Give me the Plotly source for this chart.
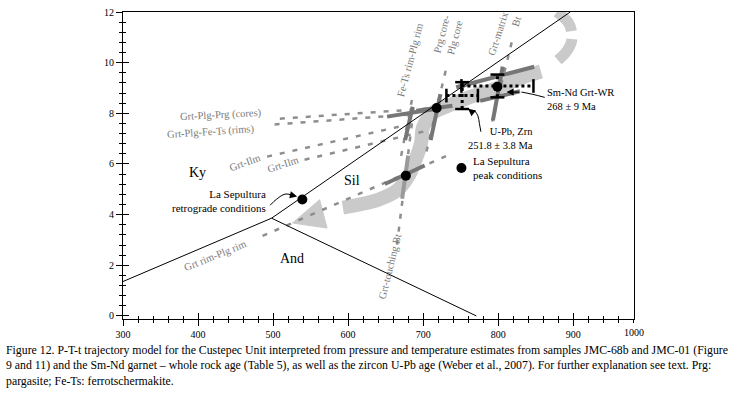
import plotly.graph_objects as go

# ---------------- data (T in deg C, P in kbar) ----------------
# Al2SiO5 phase boundaries
ky_and_T = [300, 498]
ky_and_P = [1.36, 3.86]
ky_sil_T = [498, 896]
ky_sil_P = [3.86, 12.0]
and_sil_T = [498, 771]
and_sil_P = [3.86, 0.0]

# P-T-t trajectory (thick grey band)
path_T = [857, 829, 798, 762, 736, 712, 700, 697, 689, 680, 665, 642, 615, 593]
path_P = [9.65, 9.38, 8.99, 8.64, 8.33, 7.99, 7.45, 6.8, 6.1, 5.5, 4.95, 4.61, 4.4, 4.28]
early_T = [879.7, 890.4, 897.0, 898.3, 894.4, 878.4]
early_P = [10.10, 10.41, 10.76, 11.07, 11.54, 12.0]
arrow_T = [562, 572, 526, 562]
arrow_P = [4.59, 3.47, 3.67, 4.59]

# thermobarometric isopleths (dashed)
grt_plg_prg_T = [509, 718]
grt_plg_prg_P = [7.79, 8.21]
grt_plg_fets_T = [502, 680]
grt_plg_fets_P = [7.56, 7.95]
grt_ilm1_T = [492, 669]
grt_ilm1_P = [6.29, 7.48]
grt_ilm2_T = [542, 702]
grt_ilm2_P = [6.17, 7.29]
grt_plg_rim_T = [486, 732]
grt_plg_rim_P = [3.16, 6.33]
fets_plg_rim_T = [685, 669]
fets_plg_rim_P = [8.53, 6.06]
prg_plg_core_T = [730, 704]
prg_plg_core_P = [9.68, 6.44]
grt_touch_bt_T = [685, 665]
grt_touch_bt_P = [7.6, 2.78]
grt_matrix_bt_T = [818, 792]
grt_matrix_bt_P = [10.8, 7.68]

# uncertainty bars of the intersections (dark grey)
bars_T = [[691, 739], [652, 718], [686, 676], [723, 710], [649, 702], [806, 793], [744, 848], [776, 829]]
bars_P = [[8.10, 8.30], [7.87, 8.18], [8.26, 6.94], [8.76, 6.94], [5.21, 5.94], [9.84, 7.72], [9.03, 9.84], [8.49, 8.87]]
bt_bar_T = [680, 672]
bt_bar_P = [6.33, 4.63]

# ages with error bars
smnd_T, smnd_P, smnd_dT, smnd_dP = 799, 9.08, 48, 0.45
upb_T, upb_P, upb_dT, upb_dP = 752, 8.70, 21, 0.53

# P-T points (black dots)
dots_T = [718, 677, 799, 539, 751]
dots_P = [8.21, 5.54, 9.05, 4.60, 5.84]

x_ticks = [300, 400, 500, 600, 700, 800, 900]
y_ticks = [0, 2, 4, 6, 8, 10, 12]

SERIF = "Liberation Serif, Times New Roman, serif"
LIGHT = "#cacaca"
DASH = "#8e8e8e"
DARK = "#767676"
LABEL = "#7a7a7a"

fig = go.Figure()

def line(T, P, color, width, dash="solid", shape="linear"):
    fig.add_trace(go.Scatter(x=T, y=P, mode="lines", hoverinfo="skip",
                             line=dict(color=color, width=width, dash=dash, shape=shape),
                             showlegend=False))

# trajectory band
line(path_T, path_P, LIGHT, 14, shape="spline")
line(early_T, early_P, LIGHT, 11, dash="26px,8px", shape="spline")
fig.add_trace(go.Scatter(x=arrow_T, y=arrow_P, mode="lines", fill="toself", fillcolor=LIGHT,
                         line=dict(color=LIGHT, width=1), hoverinfo="skip", showlegend=False))

# dashed isopleths
for T, P in [(grt_plg_prg_T, grt_plg_prg_P), (grt_plg_fets_T, grt_plg_fets_P),
             (grt_ilm1_T, grt_ilm1_P), (grt_ilm2_T, grt_ilm2_P),
             (grt_plg_rim_T, grt_plg_rim_P), (fets_plg_rim_T, fets_plg_rim_P),
             (prg_plg_core_T, prg_plg_core_P), (grt_touch_bt_T, grt_touch_bt_P),
             (grt_matrix_bt_T, grt_matrix_bt_P)]:
    line(T, P, DASH, 2.5, dash="5px,8px")

# uncertainty bars
line(bt_bar_T, bt_bar_P, "#9a9a9a", 4)
for T, P in zip(bars_T, bars_P):
    line(T, P, DARK, 4)

# phase boundaries
for T, P in [(ky_and_T, ky_and_P), (ky_sil_T, ky_sil_P), (and_sil_T, and_sil_P)]:
    line(T, P, "black", 1)

# age error bars (dotted) with caps
capT, capP = 9.3, 0.27
for cT, cP, dT, dP in [(smnd_T, smnd_P, smnd_dT, smnd_dP), (upb_T, upb_P, upb_dT, upb_dP)]:
    line([cT - dT, cT + dT], [cP, cP], "black", 3, dash="dot")
    line([cT, cT], [cP - dP, cP + dP], "black", 3, dash="dot")
    capsx = [cT - dT, cT - dT, None, cT + dT, cT + dT, None,
             cT - capT, cT + capT, None, cT - capT, cT + capT]
    capsy = [cP - capP, cP + capP, None, cP - capP, cP + capP, None,
             cP + dP, cP + dP, None, cP - dP, cP - dP]
    line(capsx, capsy, "black", 2.5)

# dots
fig.add_trace(go.Scatter(x=dots_T, y=dots_P, mode="markers", hoverinfo="skip",
                         marker=dict(color="black", size=10), showlegend=False))

# curved leader lines
line([496, 505, 516, 525], [4.37, 4.62, 4.81, 4.78], "black", 1, shape="spline")
line([862, 846, 831], [8.63, 8.75, 8.84], "black", 1, shape="spline")
line([777, 775, 773, 768], [7.27, 7.59, 7.90, 8.13], "black", 1, shape="spline")

# invisible trace for overlay axes
fig.add_trace(go.Scatter(x=[300], y=[0], xaxis="x2", yaxis="y2", mode="markers",
                         marker=dict(opacity=0), hoverinfo="skip", showlegend=False))

ann = []
def txt(x, y, s, size=11, color="black", angle=0, xanchor="center", align="center", yanchor="middle"):
    ann.append(dict(x=x, y=y, xref="x", yref="y", text=s, showarrow=False, textangle=angle,
                    font=dict(family=SERIF, size=size, color=color),
                    xanchor=xanchor, yanchor=yanchor, align=align))

txt(399, 5.65, "Ky", 14)
txt(605, 5.34, "Sil", 14)
txt(525, 2.28, "And", 14)
txt(493, 4.53, "La Sepultura<br>retrograde conditions", 11, xanchor="right", align="right")
txt(764, 5.83, "La Sepultura<br>peak conditions", 11, xanchor="left", align="left")
txt(862, 8.56, "Sm-Nd Grt-WR<br>268 ± 9 Ma", 10.5, xanchor="left", align="left")
txt(849, 7.0, "U-Pb, Zrn<br>251.8 ± 3.8 Ma", 10.5, xanchor="right", align="right")

txt(430, 7.94, "Grt-Plg-Prg (cores)", 10.5, LABEL, -3)
txt(417, 7.28, "Grt-Plg-Fe-Ts (rims)", 10.5, LABEL, -4)
txt(463, 6.04, "Grt-Ilm", 10.5, LABEL, -20)
txt(513, 5.96, "Grt-Ilm", 10.5, LABEL, -18)
txt(423, 2.40, "Grt rim-Plg rim", 10.5, LABEL, -22)
txt(682, 10.1, "Fe-Ts rim-Plg rim", 10.5, LABEL, -75)
txt(734, 11.07, "Prg core-<br>Plg core", 10.5, LABEL, -75)
txt(809, 11.07, "Grt-matrix<br>Bt", 10.5, LABEL, -72, align="right")
txt(656, 1.94, "Grt-touching Bt", 10.5, LABEL, -76)

# arrow heads
for x, y, ax, ay in [(532, 4.72, -9, -2), (811, 8.84, 14, 0), (760, 8.18, 6, 5)]:
    ann.append(dict(x=x, y=y, xref="x", yref="y", ax=ax, ay=ay, text="", showarrow=True,
                    arrowhead=2, arrowsize=1.2, arrowwidth=1.2, arrowcolor="black"))

# right-end tick label
ann.append(dict(x=981, y=0, xref="x", yref="paper", text="1000", showarrow=False,
                yanchor="top", yshift=-6, font=dict(family=SERIF, size=10, color="black")))

caption = ("Figure 12. P-T-t trajectory model for the Custepec Unit interpreted from pressure and temperature estimates from samples JMC-68b and JMC-01 (Figure<br>"
           "9 and 11) and the Sm-Nd garnet – whole rock age (Table 5), as well as the zircon U-Pb age (Weber et al., 2007). For further explanation see text. Prg:<br>"
           "pargasite; Fe-Ts: ferrotschermakite.")
ann.append(dict(x=-(123 - 4) / 511, y=-(341 - 319) / 313, xref="paper", yref="paper", text=caption,
                showarrow=False, xanchor="left", yanchor="top", align="left",
                font=dict(family=SERIF, size=11.8, color="black")))

axis_common = dict(showgrid=False, zeroline=False)
fig.update_layout(
    width=746, height=396,
    margin=dict(l=123, r=112, t=6, b=77),
    paper_bgcolor="white", plot_bgcolor="white",
    showlegend=False,
    annotations=ann,
    xaxis=dict(range=[300, 981], tickvals=x_ticks, showline=True, linecolor="black", linewidth=1,
               mirror=True, ticks="outside", ticklen=6, tickcolor="black", tickwidth=1,
               minor=dict(dtick=20, tick0=300, ticks="outside", ticklen=3, tickcolor="black"),
               tickfont=dict(family=SERIF, size=10, color="black"), **axis_common),
    yaxis=dict(range=[-0.12, 12], tickvals=y_ticks, showline=True, linecolor="black", linewidth=1,
               mirror=True, ticks="outside", ticklen=6, tickcolor="black", tickwidth=1,
               minor=dict(dtick=0.4, tick0=0, ticks="outside", ticklen=3, tickcolor="black"),
               tickfont=dict(family=SERIF, size=10, color="black"), **axis_common),
    xaxis2=dict(overlaying="x", matches="x", anchor="y2", ticks="inside", ticklen=6, tickvals=x_ticks,
                tickcolor="black", showticklabels=False, showline=False,
                minor=dict(dtick=20, tick0=300, ticks="inside", ticklen=3, tickcolor="black"), **axis_common),
    yaxis2=dict(overlaying="y", matches="y", anchor="x2", ticks="inside", ticklen=6, tickvals=y_ticks,
                tickcolor="black", showticklabels=False, showline=False,
                minor=dict(dtick=0.4, tick0=0, ticks="inside", ticklen=3, tickcolor="black"), **axis_common),
)

fig.write_html("out.html", config={"displayModeBar": False},
               post_script="document.body.style.margin='0px';")
